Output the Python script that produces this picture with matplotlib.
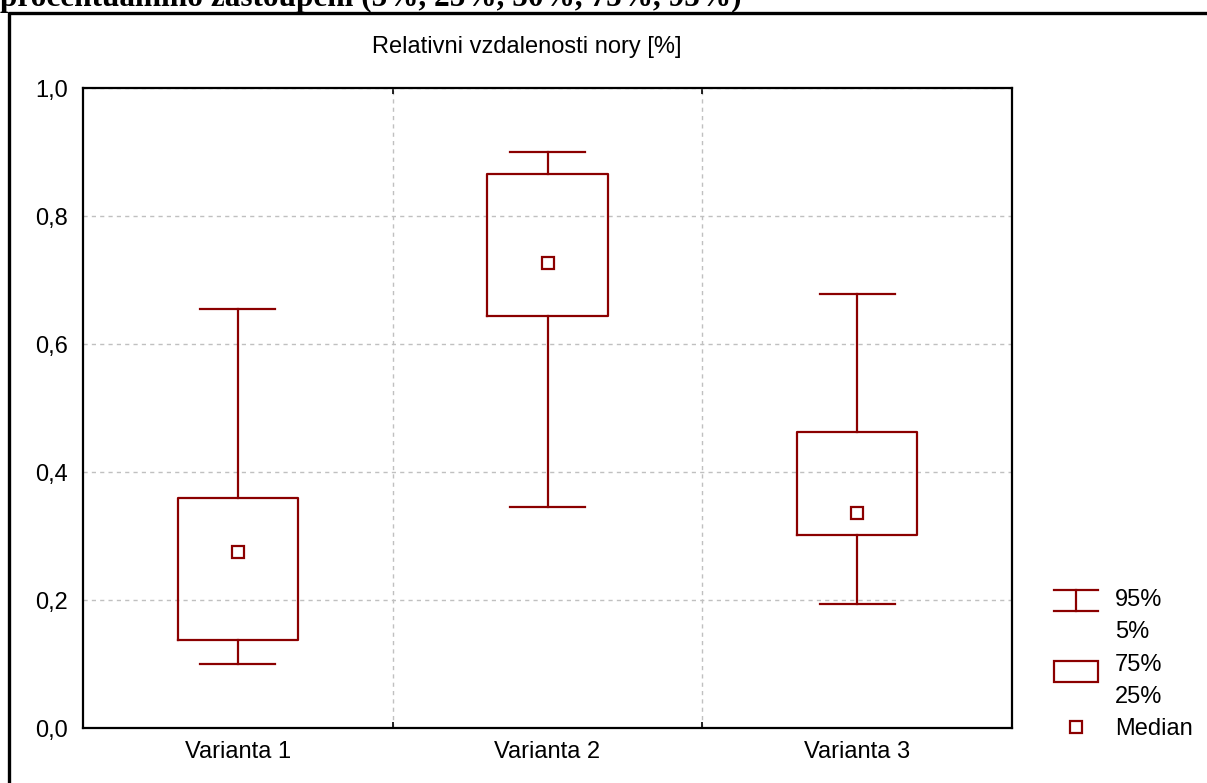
import matplotlib
matplotlib.use("Agg")
import matplotlib.pyplot as plt
from matplotlib.patches import Rectangle

plt.rcParams['font.family'] = ['Liberation Sans', 'DejaVu Sans']

categories = ["Varianta 1", "Varianta 2", "Varianta 3"]
p95 = [0.655, 0.900, 0.678]
p75 = [0.359, 0.866, 0.463]
median = [0.275, 0.727, 0.336]
p25 = [0.137, 0.644, 0.302]
p05 = [0.100, 0.345, 0.194]
yticks = [0.0, 0.2, 0.4, 0.6, 0.8, 1.0]
ytick_labels = ["0,0", "0,2", "0,4", "0,6", "0,8", "1,0"]
legend_labels = ["95%", "5%", "75%", "25%", "Median"]
title = "Relativni vzdalenosti nory [%]"
header = "procentuálního zastoupení (5%, 25%, 50%, 75%, 95%)"

W, H = 1207, 783
RED = "#8B0000"
FS = 17
fig = plt.figure(figsize=(W / 100, H / 100), dpi=100)

def px(x0, y0, x1, y1):
    return [x0 / W, 1 - y1 / H, (x1 - x0) / W, (y1 - y0) / H]

# outer frame
frame = fig.add_axes([0, 0, 1, 1], zorder=0)
frame.set_xlim(0, W)
frame.set_ylim(H, 0)
frame.axis("off")
frame.plot([9, 9, W + 5], [H + 5, 13, 13], color="black", lw=2.4, solid_capstyle="projecting")
frame.text(0, 6, header, fontsize=22.5, fontweight="bold", family=["Liberation Serif"],
           va="baseline", ha="left", color="black")
frame.text(527, 47, title, fontsize=FS, ha="center", va="center")

ax = fig.add_axes(px(83, 88, 1012, 728), zorder=1)
positions = [0.5, 1.5, 2.5]
stats = []
for i in range(3):
    stats.append(dict(med=median[i], q1=p25[i], q3=p75[i], whislo=p05[i], whishi=p95[i], fliers=[]))
lineprops = dict(color=RED, lw=1.6)
ax.bxp(stats, positions=positions, widths=0.388, capwidths=0.242,
       boxprops=lineprops, whiskerprops=lineprops, capprops=lineprops,
       medianprops=dict(visible=False), showfliers=False, manage_ticks=False, zorder=3)
ax.plot(positions, median, linestyle="none", marker="s", markersize=9,
        markerfacecolor="white", markeredgecolor=RED, markeredgewidth=1.6, zorder=4)

ax.set_xlim(0, 3)
ax.set_ylim(0, 1.0)
ax.set_yticks(yticks)
ax.set_yticklabels(ytick_labels, fontsize=FS)
ax.set_xticks([1, 2])
ax.set_xticklabels([])
ax.set_xticks(positions, minor=True)
ax.set_xticklabels(categories, minor=True, fontsize=FS)
ax.tick_params(axis="x", which="major", direction="in", length=4, width=1.2, top=True)
ax.tick_params(axis="x", which="minor", length=0, pad=9)
ax.tick_params(axis="y", length=0, pad=11)
ax.grid(True, which="major", color="#c0c0c0", linestyle=(0, (3, 3)), lw=1)
ax.set_axisbelow(True)
for s in ax.spines.values():
    s.set_linewidth(1.6)

# legend
lg = fig.add_axes(px(1040, 570, W, 760), zorder=2)
lg.set_xlim(1040, W)
lg.set_ylim(760, 570)
lg.axis("off")
lg.plot([1054, 1098], [590, 590], color=RED, lw=1.6)
lg.plot([1054, 1098], [611, 611], color=RED, lw=1.6)
lg.plot([1076, 1076], [590, 611], color=RED, lw=1.6)
lg.add_patch(Rectangle((1054, 661), 44, 21, fill=False, edgecolor=RED, lw=1.6))
lg.plot([1076], [727], marker="s", markersize=8, markerfacecolor="white",
        markeredgecolor=RED, markeredgewidth=1.6, linestyle="none")
for lab, y in zip(legend_labels, [600, 632, 665, 697, 729]):
    lg.text(1115, y, lab, fontsize=FS, va="center", ha="left")

fig.savefig("out.png", dpi=100)
